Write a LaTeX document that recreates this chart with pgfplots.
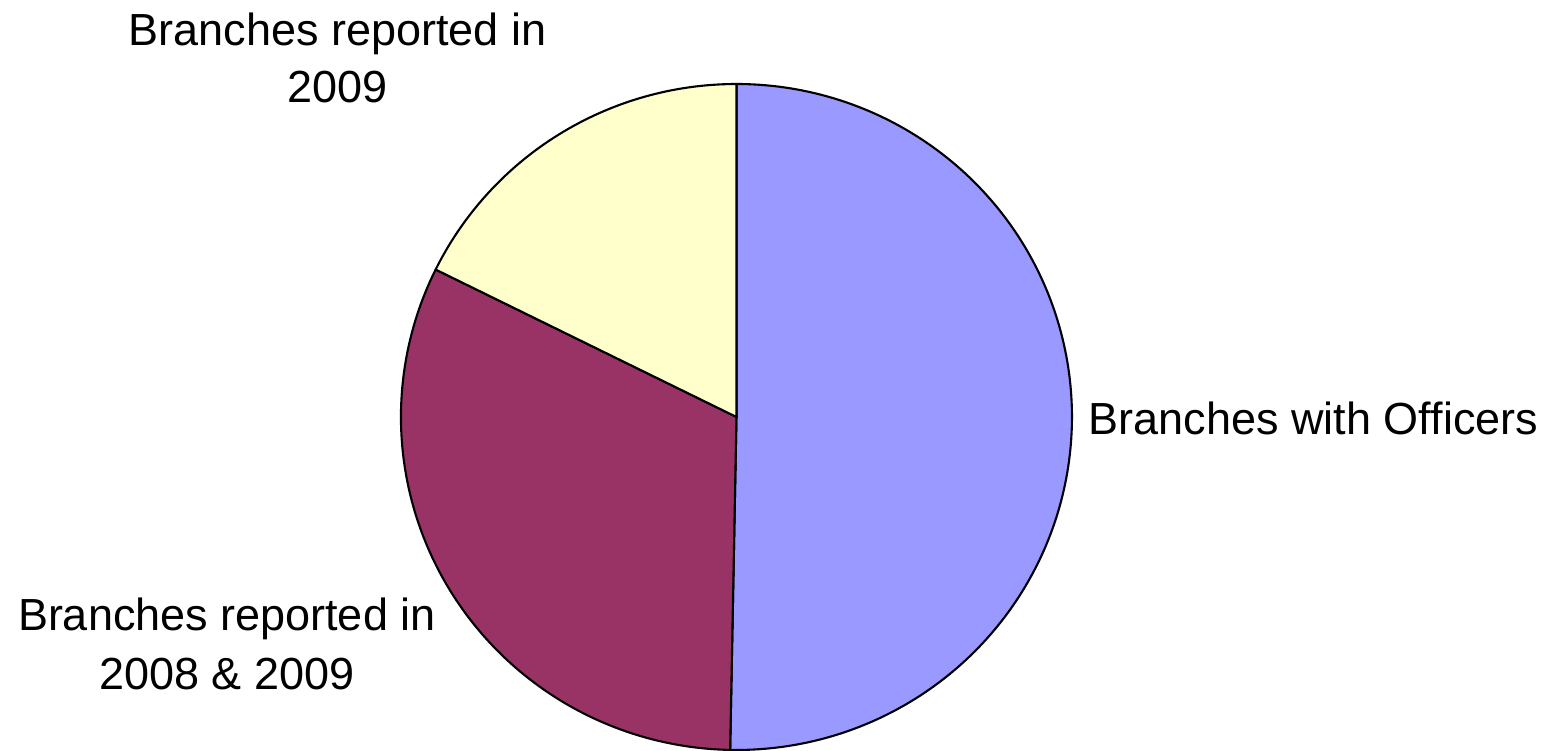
\documentclass[border=0pt]{standalone}
\usepackage{fontspec}
\setmainfont{Liberation Sans}
\usepackage{pgfplots}
\usepackage{pgfplotstable}
\pgfplotsset{compat=1.18}
\definecolor{pieblue}{HTML}{9999FF}
\definecolor{piepurple}{HTML}{993366}
\definecolor{pieyellow}{HTML}{FFFFCC}
\pgfplotstableread{
value
50.3
32.0
17.7
}\piedata
\pgfplotstablegetelem{0}{value}\of\piedata \let\vA\pgfplotsretval
\pgfplotstablegetelem{1}{value}\of\piedata \let\vB\pgfplotsretval
\pgfplotstablegetelem{2}{value}\of\piedata \let\vC\pgfplotsretval
\pgfmathsetmacro\aZ{90}
\pgfmathsetmacro\aA{90-3.6*\vA}
\pgfmathsetmacro\aB{\aA-3.6*\vB}
\pgfmathsetmacro\aC{\aB-3.6*\vC}
% wedge from angle #1 to angle #2
\newcommand{\pieslice}[3]{%
  \addplot[fill=#3, draw=black, line width=0.6pt, line join=round, variable=\t,
    samples at={0,...,182}]
  ({(\t>0)*(\t<182)*cos(#1+(#2-#1)*(\t-1)/180)},
   {(\t>0)*(\t<182)*sin(#1+(#2-#1)*(\t-1)/180)});
}
\tikzset{lbl/.style={font=\fontsize{12.8}{16.5}\selectfont, inner sep=0pt}}
\begin{document}
\begin{tikzpicture}
\begin{axis}[
  scale only axis,
  width=15.6cm, height=7.51cm,
  hide axis,
  xmin=-2.195, xmax=2.4545,
  ymin=-1.003, ymax=1.2523,
  clip=true,
]
\pieslice{\aZ}{\aA}{pieblue}
\pieslice{\aA}{\aB}{piepurple}
\pieslice{\aB}{\aC}{pieyellow}
\path (rel axis cs:0,0) rectangle (rel axis cs:1,1);
\end{axis}
\begin{axis}[
  scale only axis,
  width=15.6cm, height=7.51cm,
  hide axis,
  xmin=-2.195, xmax=2.4545,
  ymin=-1.003, ymax=1.2523,
  clip=false,
]
\node[lbl, anchor=base] at (axis cs:-1.189,1.117) {Branches reported in};
\node[lbl, anchor=base] at (axis cs:-1.189,0.943) {2009};
\node[lbl, anchor=base] at (axis cs:-1.519,-0.640) {Branches reported in};
\node[lbl, anchor=base] at (axis cs:-1.519,-0.817) {2008 \& 2009};
\node[lbl, anchor=base west] at (axis cs:1.048,-0.054) {Branches with Officers};
\end{axis}
\end{tikzpicture}
\end{document}
